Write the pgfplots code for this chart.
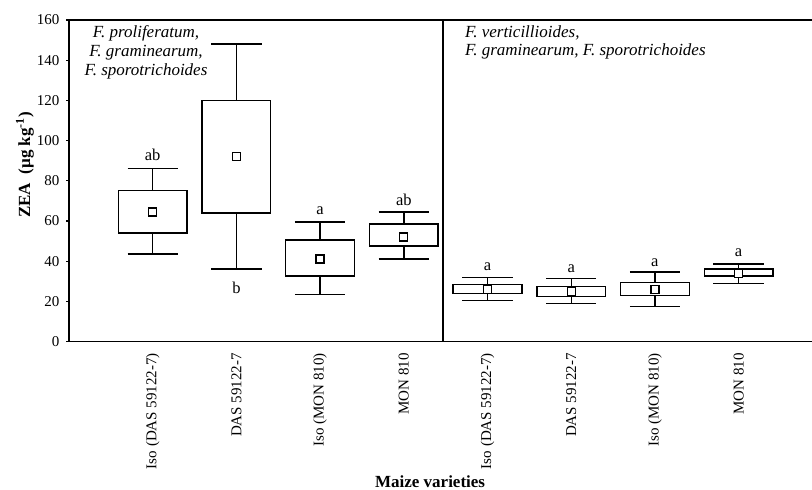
\documentclass[border=0pt]{standalone}
\usepackage{fontspec}
\setmainfont{Liberation Serif}
\usepackage{pgfplots}
\pgfplotsset{compat=1.18}

\pgfplotsset{
  zbox/.style={black, line width=1.4bp, solid, fill=white, mark=none},
  zwh/.style={black, line width=1.4bp, solid, mark=none, unbounded coords=jump},
}

\begin{document}
\begin{tikzpicture}
\begin{axis}[
  at={(0,0)}, anchor=south west,
  scale only axis, width=743bp, height=321.5bp,
  xmin=0, xmax=8.877, ymin=0, ymax=160,
  axis x line*=box, axis y line*=left,
  axis line style={line width=1.3bp},
  xtick={1,2,3,4,5,6,7,8},
  xticklabels={Iso (DAS 59122-7), DAS 59122-7, Iso (MON 810), MON 810, Iso (DAS 59122-7), DAS 59122-7, Iso (MON 810), MON 810},
  x tick style={draw=none},
  xticklabel style={rotate=90, anchor=east, inner sep=0pt, font=\fontsize{15bp}{18bp}\selectfont},
  xticklabel shift=8.5bp,
  ytick={0,20,...,160},
  y tick style={line width=1.2bp, black},
  tick align=outside, major tick length=3bp,
  yticklabel style={inner sep=0pt, font=\fontsize{15bp}{18bp}\selectfont},
  yticklabel shift=6.5bp,
  /pgf/number format/assume math mode=true,
  xlabel={\bfseries Maize varieties},
  xlabel style={at={(rel axis cs:0.486,0)}, anchor=base, yshift=-145.5bp, font=\fontsize{17bp}{20bp}\selectfont},
  ylabel={\bfseries ZEA\ \ (µg kg\textsuperscript{-1})},
  ylabel style={at={(rel axis cs:-0.0592,0.549)}, anchor=center, font=\fontsize{17bp}{20bp}\selectfont},
  clip=false,
]
% whiskers and caps (lower whisker, lower quartile, upper quartile, upper whisker)
\addplot[zwh] coordinates {
 (1,75) (1,86) (1,nan) (0.7,86) (1.3,86) (1,nan) (1,54) (1,43.5) (1,nan) (0.7,43.5) (1.3,43.5) (1,nan)
 (2,120) (2,148) (2,nan) (1.7,148) (2.3,148) (2,nan) (2,64) (2,36) (2,nan) (1.7,36) (2.3,36) (2,nan)
 (3,50.5) (3,59.5) (3,nan) (2.7,59.5) (3.3,59.5) (3,nan) (3,32.5) (3,23.5) (3,nan) (2.7,23.5) (3.3,23.5) (3,nan)
 (4,58.5) (4,64.5) (4,nan) (3.7,64.5) (4.3,64.5) (4,nan) (4,47.5) (4,41) (4,nan) (3.7,41) (4.3,41) (4,nan)
 (5,28.5) (5,32) (5,nan) (4.7,32) (5.3,32) (5,nan) (5,24) (5,20.5) (5,nan) (4.7,20.5) (5.3,20.5) (5,nan)
 (6,27.5) (6,31.5) (6,nan) (5.7,31.5) (6.3,31.5) (6,nan) (6,22.5) (6,19) (6,nan) (5.7,19) (6.3,19) (6,nan)
 (7,29.5) (7,34.5) (7,nan) (6.7,34.5) (7.3,34.5) (7,nan) (7,23) (7,17.5) (7,nan) (6.7,17.5) (7.3,17.5) (7,nan)
 (8,36) (8,38.5) (8,nan) (7.7,38.5) (8.3,38.5) (8,nan) (8,32.5) (8,29) (8,nan) (7.7,29) (8.3,29)
};
% boxes (lower quartile to upper quartile)
\addplot[zbox] coordinates {(0.59,54) (1.41,54) (1.41,75) (0.59,75)} -- cycle;
\addplot[zbox] coordinates {(1.59,64) (2.41,64) (2.41,120) (1.59,120)} -- cycle;
\addplot[zbox] coordinates {(2.59,32.5) (3.41,32.5) (3.41,50.5) (2.59,50.5)} -- cycle;
\addplot[zbox] coordinates {(3.59,47.5) (4.41,47.5) (4.41,58.5) (3.59,58.5)} -- cycle;
\addplot[zbox] coordinates {(4.59,24) (5.41,24) (5.41,28.5) (4.59,28.5)} -- cycle;
\addplot[zbox] coordinates {(5.59,22.5) (6.41,22.5) (6.41,27.5) (5.59,27.5)} -- cycle;
\addplot[zbox] coordinates {(6.59,23) (7.41,23) (7.41,29.5) (6.59,29.5)} -- cycle;
\addplot[zbox] coordinates {(7.59,32.5) (8.41,32.5) (8.41,36) (7.59,36)} -- cycle;
% means
\addplot[only marks, mark=square*, mark size=4bp, mark options={fill=white, draw=black, line width=1.3bp}]
  coordinates {(1,64.5) (2,92) (3,41) (4,52) (5,26) (6,25) (7,26) (8,34)};
% divider
\draw[line width=1.3bp] (axis cs:4.47,0) -- (axis cs:4.47,160);
% letters
\begin{scope}[every node/.style={anchor=base, inner sep=0pt, font=\fontsize{16.5bp}{19bp}\selectfont}]
\node at (axis cs:1,90) {ab};
\node at (axis cs:2,24) {b};
\node at (axis cs:3,63.3) {a};
\node at (axis cs:4,67.6) {ab};
\node at (axis cs:5,35.2) {a};
\node at (axis cs:6,34.2) {a};
\node at (axis cs:7,37.2) {a};
\node at (axis cs:8,42.2) {a};
\end{scope}
% annotations
\begin{scope}[every node/.style={inner sep=0pt, font=\fontsize{17bp}{20bp}\selectfont\itshape}]
\node[anchor=base] at (axis cs:0.92,151.4) {F. proliferatum,};
\node[anchor=base] at (axis cs:0.92,142.0) {F. graminearum,};
\node[anchor=base] at (axis cs:0.92,132.6) {F. sporotrichoides};
\node[anchor=base west] at (axis cs:4.73,151.2) {F. verticillioides,};
\node[anchor=base west] at (axis cs:4.73,142.1) {F. graminearum, F. sporotrichoides};
\end{scope}
\end{axis}
\pgfresetboundingbox
\path (-69bp,-148.5bp) rectangle (743bp,341.5bp);
\end{tikzpicture}
\end{document}
